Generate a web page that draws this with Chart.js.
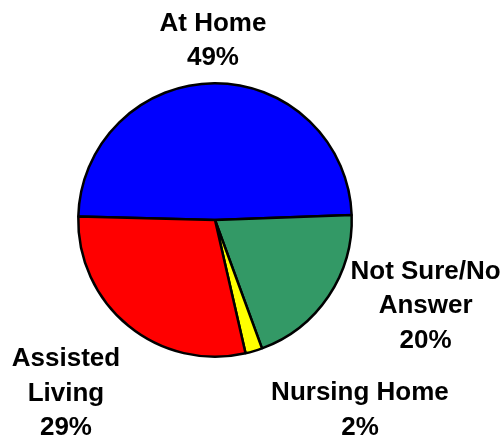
<!DOCTYPE html>
<html>
<head>
<meta charset="utf-8">
<script src="https://cdn.jsdelivr.net/npm/chart.js@4/dist/chart.umd.min.js"></script>
<style>
  html, body { margin: 0; padding: 0; background: #fff; }
  #wrap { width: 503px; height: 439px; }
</style>
</head>
<body>
<div id="wrap"><canvas id="pie"></canvas></div>
<script>
// --- data ---
const categories = ["At Home", "Not Sure/No Answer", "Nursing Home", "Assisted Living"];
const shares = [49, 20, 2, 29];
const labelLines = [
    ["At Home", "49%"],
    ["Not Sure/No", "Answer", "20%"],
    ["Nursing Home", "2%"],
    ["Assisted", "Living", "29%"]
];
const sliceColors = ["#0000FF", "#339966", "#FFFF00", "#FF0000"];

// label anchors (centre of the text block), in units of the pie radius from its centre
const labelAnchors = [[-0.015, -1.31], [1.54, 0.63], [1.06, 1.39], [-1.09, 1.27]];

const outsideLabels = {
    id: "outsideLabels",
    afterDatasetsDraw(chart) {
        const c = chart.ctx;
        const arcs = chart.getDatasetMeta(0).data;
        c.save();
        c.font = "bold 26px 'Liberation Sans', Arial, sans-serif";
        c.fillStyle = "#000";
        c.textAlign = "center";
        c.textBaseline = "middle";
        arcs.forEach((arc, i) => {
            const r = arc.outerRadius;
            const x = arc.x + labelAnchors[i][0] * r;
            const y = arc.y + labelAnchors[i][1] * r;
            const lines = labelLines[i];
            lines.forEach((t, k) => {
                c.fillText(t, x, y + (k - (lines.length - 1) / 2) * 34.5);
            });
        });
        c.restore();
    }
};

new Chart(document.getElementById("pie"), {
    type: "pie",
    data: {
        labels: categories,
        datasets: [{
            data: shares,
            backgroundColor: sliceColors,
            borderColor: "#000",
            borderWidth: 2.5,
            borderAlign: "center"
        }]
    },
    options: {
        responsive: true,
        maintainAspectRatio: false,
        animation: false,
        rotation: -88.5,
        layout: { padding: { left: 77, top: 82, right: 150, bottom: 81 } },
        plugins: {
            legend: { display: false },
            tooltip: { enabled: false }
        }
    },
    plugins: [outsideLabels]
});
</script>
</body>
</html>
